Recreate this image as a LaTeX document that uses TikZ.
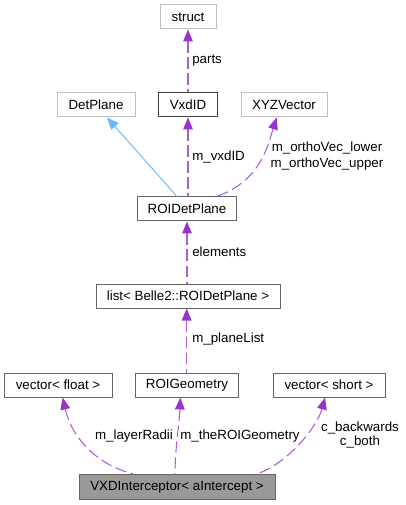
\documentclass[tikz,border=0pt]{standalone}
\usepackage{fontspec}
\setmainfont{Liberation Sans}
\usetikzlibrary{arrows.meta}
\definecolor{dep}{HTML}{9A32CD}
\definecolor{inh}{HTML}{63B8FF}
\definecolor{lgray}{HTML}{BFBFBF}
\definecolor{mgray}{HTML}{666666}
\definecolor{dgray}{HTML}{404040}
\definecolor{fillg}{HTML}{999999}
\begin{document}
\begin{tikzpicture}[x=0.75pt,y=-0.75pt,
  every node/.style={font=\fontsize{10}{12}\selectfont, inner sep=0pt},
  cbox/.style={draw=mgray, line width=0.75pt, fill=white, minimum height=18pt, align=center},
  ebox/.style={cbox, draw=lgray},
  kbox/.style={cbox, draw=dgray},
  mainbox/.style={cbox, fill=fillg, draw=mgray, minimum height=19pt},
  depedge/.style={draw=dep!80, line width=0.8pt, dash pattern=on 8.5pt off 3.5pt, {Triangle[length=9pt,width=7.5pt,fill=dep,line width=0pt]}-},
  inhedge/.style={draw=inh, line width=0.7pt, {Triangle[length=9pt,width=7.5pt,fill=inh,line width=0pt]}-},
  lbl/.style={text=black}
]
\useasboundingbox (0,0) rectangle (405,505);
\node[ebox, minimum width=42pt] (struct) at (188,17) {struct};
\node[ebox, minimum width=58.5pt] (det) at (96,105) {DetPlane};
\node[kbox, minimum width=44pt] (vxd) at (188,105) {VxdID};
\node[ebox, minimum width=64.5pt] (xyz) at (284,105) {XYZVector};
\node[cbox, minimum width=74pt] (roi) at (187,209) {ROIDetPlane};
\node[cbox, minimum width=138pt] (list) at (188,296) {list< Belle2::ROIDetPlane >};
\node[cbox, minimum width=81pt] (vf) at (58,385) {vector< float >};
\node[cbox, minimum width=77pt] (geo) at (187,385) {ROIGeometry};
\node[cbox, minimum width=84pt] (vs) at (329,385) {vector< short >};
\node[mainbox, minimum width=147pt] (main) at (177,487) {VXDInterceptor< aIntercept >};

% edges
\draw[depedge] (struct.south) -- (struct.south |- vxd.north);
\draw[inhedge] ([xshift=8.25pt]det.south) -- ([xshift=-7.5pt]roi.north);
\draw[depedge] (vxd.south) -- (vxd.south |- roi.north);
\draw[depedge] ([xshift=-5.5pt]xyz.south) .. controls +(-8,25) and +(45,-15) .. ([xshift=22pt]roi.north);
\draw[depedge] (roi.south) -- (roi.south |- list.north);
\draw[depedge] ([xshift=-1pt]list.south) -- ([xshift=-1pt]list.south |- geo.north);
\draw[depedge] ([xshift=3.5pt]vf.south) .. controls +(8,36) and +(-40,-10) .. ([xshift=-33pt]main.north);
\draw[depedge] ([xshift=-5pt]geo.south) .. controls +(-1,25) and +(0,-25) .. ([xshift=-1.5pt]main.north);
\draw[depedge] ([xshift=-3pt]vs.south) .. controls +(-8,30) and +(30,-10) .. ([xshift=60pt]main.north);

% labels
\node[lbl, anchor=west] (lparts) at (192,61) {parts};
\node[lbl, anchor=west] (lvxd) at (192,157) {m\_vxdID};
\node[lbl, align=center, font=\fontsize{10}{11.5}\selectfont] (lortho) at (327,156) {m\_orthoVec\_lower\\m\_orthoVec\_upper};
\node[lbl, anchor=west] (lel) at (192,252) {elements};
\node[lbl, anchor=west] (lpl) at (192,339) {m\_planeList};
\node[lbl] (llr) at (134,436) {m\_layerRadii};
\node[lbl] (lgeo) at (240,436) {m\_theROIGeometry};
\node[lbl, align=center, font=\fontsize{10}{10.5}\selectfont] (lcb) at (360,435) {c\_backwards\\c\_both};
\end{tikzpicture}
\end{document}
